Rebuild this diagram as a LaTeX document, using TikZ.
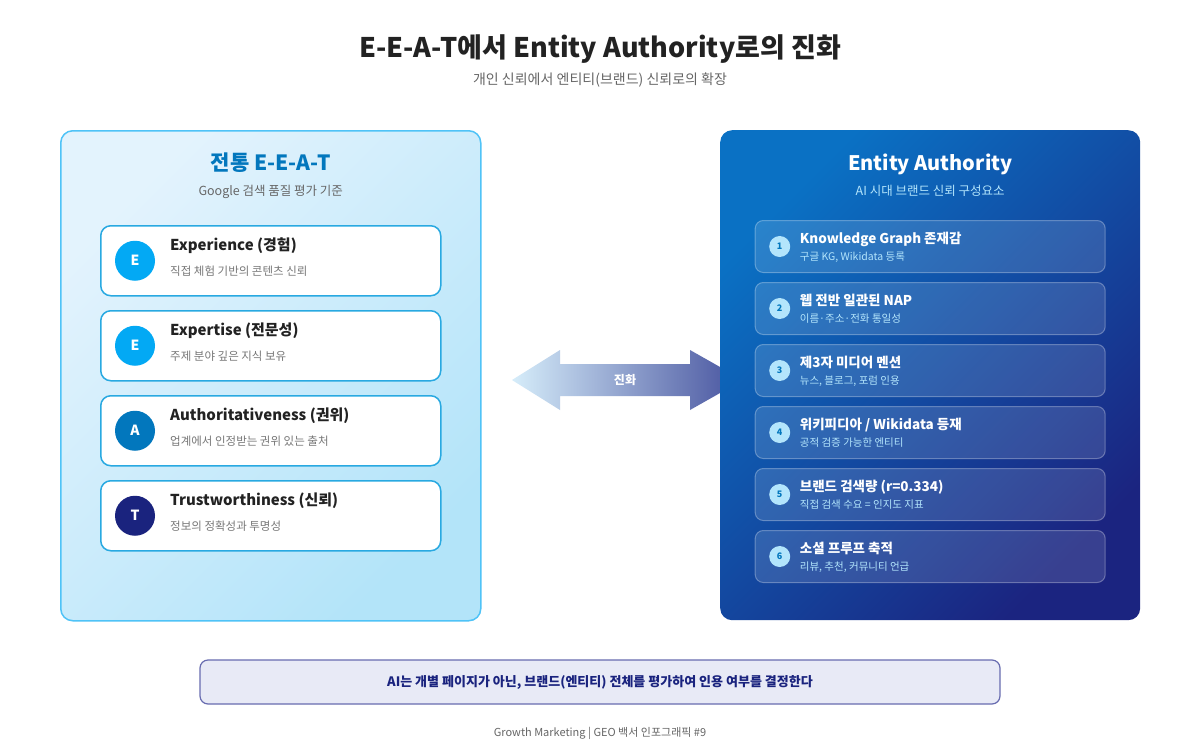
\documentclass[tikz,border=0pt]{standalone}
\usepackage{fontspec}
\setmainfont{Noto Sans CJK KR}
\usepackage{tikz}
\usetikzlibrary{positioning, calc}
\definecolor{titleFg}{RGB}{34, 34, 34}
\definecolor{subFg}{RGB}{102, 102, 102}
\definecolor{tradFg}{RGB}{2, 119, 189}
\definecolor{tradLine}{RGB}{79, 195, 247}
\definecolor{tradBgA}{RGB}{227, 243, 253}
\definecolor{tradBgB}{RGB}{179, 228, 249}
\definecolor{cardLine}{RGB}{41, 169, 225}
\definecolor{badgeE}{RGB}{3, 169, 244}
\definecolor{badgeA}{RGB}{2, 119, 189}
\definecolor{badgeT}{RGB}{26, 35, 126}
\definecolor{descFg}{RGB}{119, 119, 119}
\definecolor{entBgA}{RGB}{10, 113, 196}
\definecolor{entBgB}{RGB}{27, 36, 128}
\definecolor{entSub}{RGB}{179, 229, 252}
\definecolor{arrowL}{RGB}{214, 237, 250}
\definecolor{arrowR}{RGB}{70, 82, 158}
\definecolor{noteBg}{RGB}{232, 234, 246}
\definecolor{noteLine}{RGB}{104, 108, 176}
\definecolor{noteFg}{RGB}{26, 35, 126}
\tikzstyle{panel} = [rectangle, rounded corners=12pt, minimum width=420pt, minimum height=490pt, anchor=north west]
\tikzstyle{card} = [rectangle, rounded corners=10pt, draw=cardLine, line width=1.5pt, fill=white, minimum width=340pt, minimum height=70pt]
\tikzstyle{item} = [rectangle, rounded corners=8pt, draw=white, draw opacity=0.3, line width=1pt, fill=white, fill opacity=0.13, minimum width=350pt, minimum height=52pt]
\tikzstyle{badge} = [circle, minimum size=40pt, inner sep=0pt, text=white, font=\bfseries\fontsize{14}{14}\selectfont]
\tikzstyle{num} = [circle, minimum size=21pt, inner sep=0pt, fill=entSub, text=tradFg, font=\bfseries\fontsize{9}{9}\selectfont]
\tikzstyle{head} = [anchor=base west, inner sep=0pt, text=titleFg, font=\bfseries\fontsize{15}{17}\selectfont]
\tikzstyle{desc} = [anchor=base west, inner sep=0pt, text=descFg, font=\fontsize{11.5}{13}\selectfont]
\tikzstyle{ihead} = [anchor=base west, inner sep=0pt, text=white, font=\bfseries\fontsize{13.5}{16}\selectfont]
\tikzstyle{idesc} = [anchor=base west, inner sep=0pt, text=entSub, font=\fontsize{10.5}{12}\selectfont]

\begin{document}
\begin{tikzpicture}[x=1pt, y=-1pt]

\fill [white] (0,0) rectangle (1200,750);
\useasboundingbox (0,0) rectangle (1200,750);

\node (title) [anchor=base, text=titleFg, font=\bfseries\fontsize{27}{30}\selectfont] at (600,57) {E-E-A-T에서 Entity Authority로의 진화};
\node (subtitle) [anchor=base, text=subFg, font=\fontsize{14}{16}\selectfont] at (600,84) {개인 신뢰에서 엔티티(브랜드) 신뢰로의 확장};

% evolution arrow, tip on the right goes under the panel
\shade [left color=arrowL, right color=arrowR] (512,380) -- (560,350) -- (560,364) -- (690,364) -- (690,350) -- (743,380) -- (690,410) -- (690,396) -- (560,396) -- (560,410) -- cycle;
\node (evo) [text=white, font=\bfseries\fontsize{12}{12}\selectfont] at (625,380) {진화};

% left: classic E-E-A-T
\node (trad) [panel, draw=tradLine, line width=1.5pt, left color=tradBgA, right color=tradBgB, shading angle=45] at (60,130) {};
\node (tradTitle) [anchor=base, yshift=-40pt, text=tradFg, font=\bfseries\fontsize{21}{23}\selectfont] at (trad.north) {전통 E-E-A-T};
\node (tradSub) [anchor=base, yshift=-65pt, text=subFg, font=\fontsize{12.5}{14}\selectfont] at (trad.north) {Google 검색 품질 평가 기준};

\node (exp) [card, anchor=north, yshift=-95pt] at (trad.north) {};
\node (expt) [card, anchor=north, yshift=-13.5pt] at (exp.south) {};
\node (auth) [card, anchor=north, yshift=-13.5pt] at (expt.south) {};
\node (trust) [card, anchor=north, yshift=-13.5pt] at (auth.south) {};

\node (expB) [badge, fill=badgeE, xshift=35pt] at (exp.west) {E};
\node (exptB) [badge, fill=badgeE, xshift=35pt] at (expt.west) {E};
\node (authB) [badge, fill=badgeA, xshift=35pt] at (auth.west) {A};
\node (trustB) [badge, fill=badgeT, xshift=35pt] at (trust.west) {T};

\node (expH) [head, xshift=70pt, yshift=10pt] at (exp.west) {Experience (경험)};
\node (expD) [desc, xshift=70pt, yshift=-15pt] at (exp.west) {직접 체험 기반의 콘텐츠 신뢰};
\node (exptH) [head, xshift=70pt, yshift=10pt] at (expt.west) {Expertise (전문성)};
\node (exptD) [desc, xshift=70pt, yshift=-15pt] at (expt.west) {주제 분야 깊은 지식 보유};
\node (authH) [head, xshift=70pt, yshift=10pt] at (auth.west) {Authoritativeness (권위)};
\node (authD) [desc, xshift=70pt, yshift=-15pt] at (auth.west) {업계에서 인정받는 권위 있는 출처};
\node (trustH) [head, xshift=70pt, yshift=10pt] at (trust.west) {Trustworthiness (신뢰)};
\node (trustD) [desc, xshift=70pt, yshift=-15pt] at (trust.west) {정보의 정확성과 투명성};

% right: entity authority
\node (ent) [panel, left color=entBgA, right color=entBgB, shading angle=45] at (720,130) {};
\node (entTitle) [anchor=base, yshift=-40pt, text=white, font=\bfseries\fontsize{20}{22}\selectfont] at (ent.north) {Entity Authority};
\node (entSub) [anchor=base, yshift=-65pt, text=entSub, font=\fontsize{12.5}{14}\selectfont] at (ent.north) {AI 시대 브랜드 신뢰 구성요소};

\node (kg) [item, anchor=north, yshift=-90pt] at (ent.north) {};
\node (nap) [item, anchor=north, yshift=-9pt] at (kg.south) {};
\node (media) [item, anchor=north, yshift=-9pt] at (nap.south) {};
\node (wiki) [item, anchor=north, yshift=-9pt] at (media.south) {};
\node (search) [item, anchor=north, yshift=-9pt] at (wiki.south) {};
\node (social) [item, anchor=north, yshift=-9pt] at (search.south) {};

\node (kgN) [num, xshift=25pt] at (kg.west) {1};
\node (napN) [num, xshift=25pt] at (nap.west) {2};
\node (mediaN) [num, xshift=25pt] at (media.west) {3};
\node (wikiN) [num, xshift=25pt] at (wiki.west) {4};
\node (searchN) [num, xshift=25pt] at (search.west) {5};
\node (socialN) [num, xshift=25pt] at (social.west) {6};

\node (kgH) [ihead, xshift=45pt, yshift=3pt] at (kg.west) {Knowledge Graph 존재감};
\node (kgD) [idesc, xshift=45pt, yshift=-14pt] at (kg.west) {구글 KG, Wikidata 등록};
\node (napH) [ihead, xshift=45pt, yshift=3pt] at (nap.west) {웹 전반 일관된 NAP};
\node (napD) [idesc, xshift=45pt, yshift=-14pt] at (nap.west) {이름·주소·전화 통일성};
\node (mediaH) [ihead, xshift=45pt, yshift=3pt] at (media.west) {제3자 미디어 멘션};
\node (mediaD) [idesc, xshift=45pt, yshift=-14pt] at (media.west) {뉴스, 블로그, 포럼 인용};
\node (wikiH) [ihead, xshift=45pt, yshift=3pt] at (wiki.west) {위키피디아 / Wikidata 등재};
\node (wikiD) [idesc, xshift=45pt, yshift=-14pt] at (wiki.west) {공적 검증 가능한 엔티티};
\node (searchH) [ihead, xshift=45pt, yshift=3pt] at (search.west) {브랜드 검색량 (r=0.334)};
\node (searchD) [idesc, xshift=45pt, yshift=-14pt] at (search.west) {직접 검색 수요 = 인지도 지표};
\node (socialH) [ihead, xshift=45pt, yshift=3pt] at (social.west) {소셜 프루프 축적};
\node (socialD) [idesc, xshift=45pt, yshift=-14pt] at (social.west) {리뷰, 추천, 커뮤니티 언급};

% bottom note and footer
\node (note) [rectangle, rounded corners=8pt, draw=noteLine, line width=1.2pt, fill=noteBg, minimum width=800pt, minimum height=44pt, text=noteFg, font=\bfseries\fontsize{13}{15}\selectfont] at (600,682) {AI는 개별 페이지가 아닌, 브랜드(엔티티) 전체를 평가하여 인용 여부를 결정한다};
\node (footer) [anchor=base, text=subFg, font=\fontsize{11}{13}\selectfont] at (600,736) {Growth Marketing | GEO 백서 인포그래픽 \#9};

\end{tikzpicture}
\end{document}
